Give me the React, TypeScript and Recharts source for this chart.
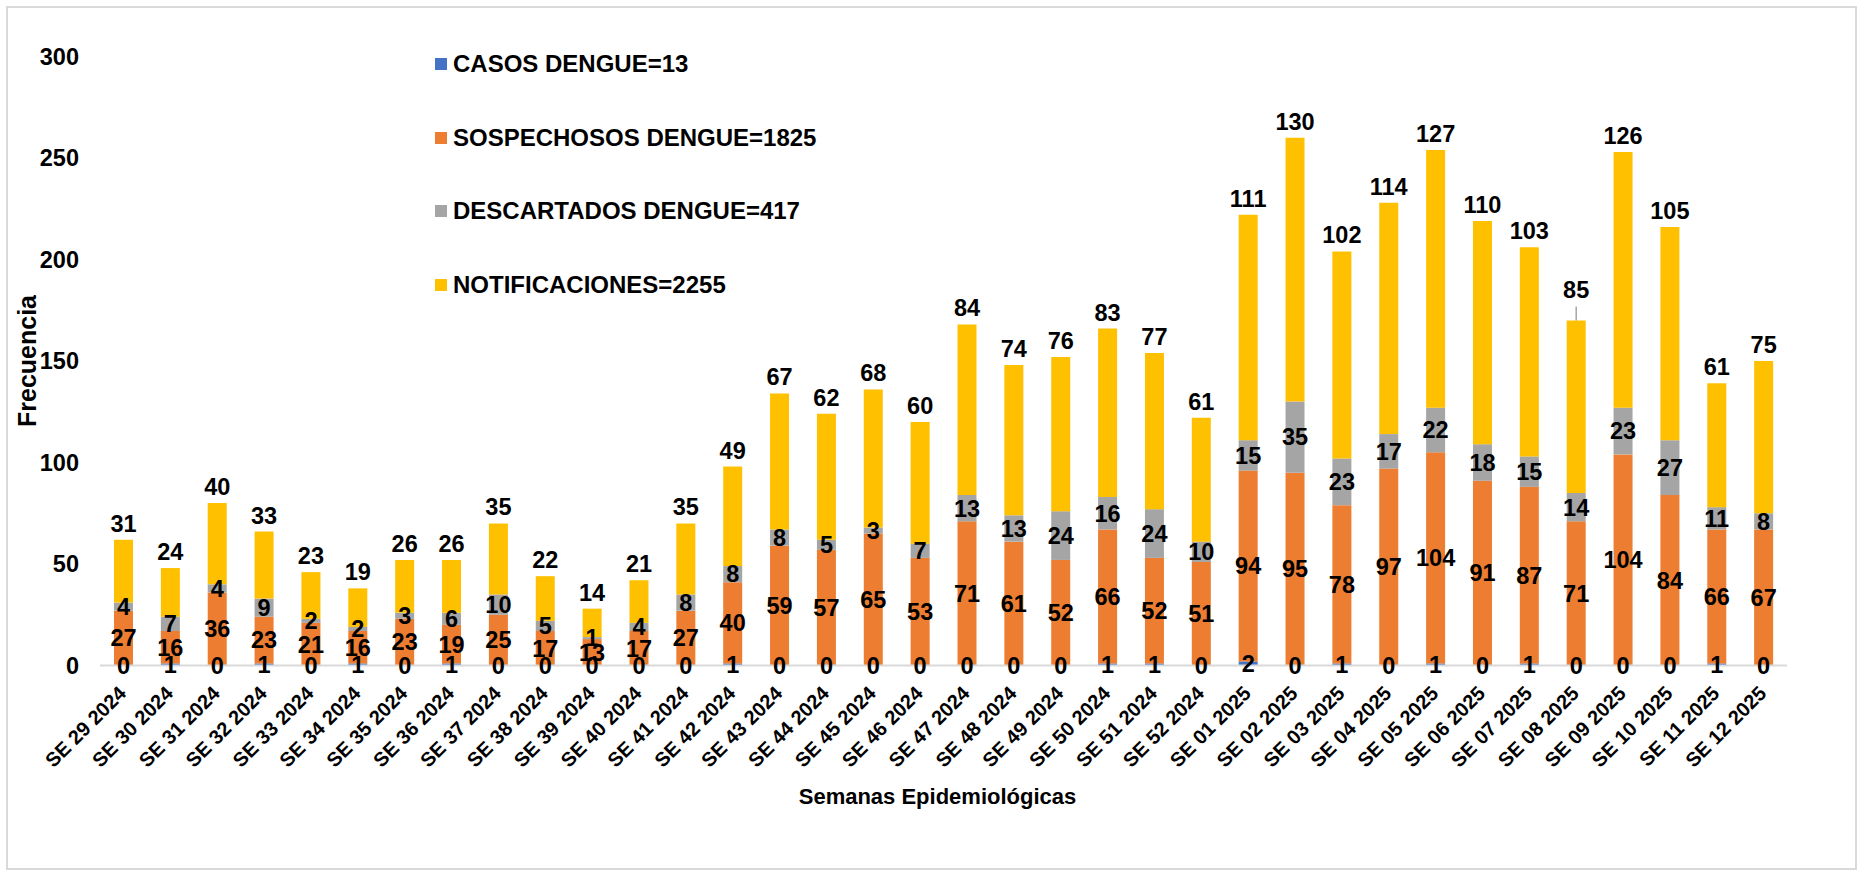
import React from 'react';
import { BarChart, Bar, XAxis, YAxis, Legend, LabelList } from 'recharts';

const weeks = [
  'SE 29 2024', 'SE 30 2024', 'SE 31 2024', 'SE 32 2024', 'SE 33 2024', 'SE 34 2024',
  'SE 35 2024', 'SE 36 2024', 'SE 37 2024', 'SE 38 2024', 'SE 39 2024', 'SE 40 2024',
  'SE 41 2024', 'SE 42 2024', 'SE 43 2024', 'SE 44 2024', 'SE 45 2024', 'SE 46 2024',
  'SE 47 2024', 'SE 48 2024', 'SE 49 2024', 'SE 50 2024', 'SE 51 2024', 'SE 52 2024',
  'SE 01 2025', 'SE 02 2025', 'SE 03 2025', 'SE 04 2025', 'SE 05 2025', 'SE 06 2025',
  'SE 07 2025', 'SE 08 2025', 'SE 09 2025', 'SE 10 2025', 'SE 11 2025', 'SE 12 2025',
];

const casos = [0, 1, 0, 1, 0, 1, 0, 1, 0, 0, 0, 0, 0, 1, 0, 0, 0, 0, 0, 0, 0, 1, 1, 0, 2, 0, 1, 0, 1, 0, 1, 0, 0, 0, 1, 0];
const sospechosos = [27, 16, 36, 23, 21, 16, 23, 19, 25, 17, 13, 17, 27, 40, 59, 57, 65, 53, 71, 61, 52, 66, 52, 51, 94, 95, 78, 97, 104, 91, 87, 71, 104, 84, 66, 67];
const descartados = [4, 7, 4, 9, 2, 2, 3, 6, 10, 5, 1, 4, 8, 8, 8, 5, 3, 7, 13, 13, 24, 16, 24, 10, 15, 35, 23, 17, 22, 18, 15, 14, 23, 27, 11, 8];
const notificaciones = [31, 24, 40, 33, 23, 19, 26, 26, 35, 22, 14, 21, 35, 49, 67, 62, 68, 60, 84, 74, 76, 83, 77, 61, 111, 130, 102, 114, 127, 110, 103, 85, 126, 105, 61, 75];

const seriesNames = ['CASOS DENGUE=13', 'SOSPECHOSOS DENGUE=1825', 'DESCARTADOS DENGUE=417', 'NOTIFICACIONES=2255'];
const seriesColors = ['#4472C4', '#ED7D31', '#A5A5A5', '#FFC000'];
const yTicks = [0, 50, 100, 150, 200, 250, 300];
const leaderWeek = 'SE 08 2025';

const data = weeks.map((w, i) => ({
  week: w,
  casos: casos[i],
  sospechosos: sospechosos[i],
  descartados: descartados[i],
  notificaciones: notificaciones[i],
}));

const FONT = '"Liberation Sans", Arial, sans-serif';
const LABEL_SIZE = 23.5;

const YTitle = (props: any) => {
  const vb = props.viewBox || {};
  const cx = vb.x + 27;
  const cy = vb.y + vb.height / 2;
  return (
    <text
      x={cx}
      y={cy}
      transform={`rotate(-90, ${cx}, ${cy})`}
      textAnchor="middle"
      dominantBaseline="central"
      fontFamily={FONT}
      fontWeight="bold"
      fontSize={25}
      fill="#000"
    >
      Frecuencia
    </text>
  );
};

const XTitle = (props: any) => {
  const vb = props.viewBox || {};
  const cx = vb.x + vb.width / 2 - 6;
  const cy = vb.y + 131;
  return (
    <text
      x={cx}
      y={cy}
      textAnchor="middle"
      dominantBaseline="central"
      fontFamily={FONT}
      fontWeight="bold"
      fontSize={22}
      fill="#000"
    >
      Semanas Epidemiológicas
    </text>
  );
};

const NotifLabel = (props: any) => {
  const { x, y, width, value, index } = props;
  const cx = Number(x) + Number(width) / 2;
  const top = Number(y);
  const lead = weeks[index] === leaderWeek;
  const off = lead ? 22 : 8;
  return (
    <g>
      {lead && <line x1={cx} x2={cx} y1={top - 14} y2={top} stroke="#A5A5A5" strokeWidth={1.5} />}
      <text
        x={cx}
        y={top - off}
        textAnchor="middle"
        fontFamily={FONT}
        fontWeight="bold"
        fontSize={LABEL_SIZE}
        fill="#000"
      >
        {value}
      </text>
    </g>
  );
};

// Casos labels (often zero-height segments) drawn from the stacked segment just above them.
const CasosLabel = (props: any) => {
  const { x, y, width, height, index } = props;
  const i = Number(index);
  const cx = Number(x) + Number(width) / 2;
  const bottom = Number(y) + Number(height);
  const unit = sospechosos[i] ? Number(height) / sospechosos[i] : 0;
  const cy = bottom + (casos[i] * unit) / 2;
  return (
    <text
      x={cx}
      y={cy + LABEL_SIZE * 0.355}
      textAnchor="middle"
      fontFamily={FONT}
      fontWeight="bold"
      fontSize={LABEL_SIZE}
      fill="#000"
    >
      {casos[i]}
    </text>
  );
};

const renderLegend = (props: any) => {
  const payload = [...(props.payload || [])].sort(
    (a: any, b: any) => seriesNames.indexOf(a.value) - seriesNames.indexOf(b.value)
  );
  return (
    <div style={{ fontFamily: FONT }}>
      {payload.map((p: any, i: number) => (
        <div
          key={i}
          style={{ height: 73.7, display: 'flex', alignItems: 'center', whiteSpace: 'nowrap' }}
        >
          <span style={{ display: 'inline-block', width: 12, height: 12, background: p.color, marginRight: 6 }} />
          <span style={{ fontSize: 24, fontWeight: 'bold', color: '#000', lineHeight: '24px' }}>{p.value}</span>
        </div>
      ))}
    </div>
  );
};

const centerLabel = {
  position: 'center' as const,
  fill: '#000',
  fontFamily: FONT,
  fontWeight: 'bold',
  fontSize: LABEL_SIZE,
};

export default function App() {
  return (
    <div style={{ position: 'absolute', left: 0, top: 0, width: 1870, height: 873, background: '#fff' }}>
      <div
        style={{
          position: 'absolute',
          left: 6,
          top: 6,
          width: 1851,
          height: 864,
          border: '2px solid #D9D9D9',
          boxSizing: 'border-box',
        }}
      />
      <BarChart
        width={1870}
        height={873}
        data={data}
        margin={{ top: 56.5, right: 83, bottom: 87.5, left: 0 }}
        barSize={19}
      >
        <XAxis
          dataKey="week"
          interval={0}
          height={120}
          tickLine={false}
          tickSize={0}
          tickMargin={19}
          axisLine={{ stroke: '#D9D9D9', strokeWidth: 2 }}
          angle={-45}
          textAnchor="end"
          tick={{ fill: '#000', fontFamily: FONT, fontWeight: 'bold', fontSize: 20, dx: -6 }}
          label={XTitle}
        />
        <YAxis
          width={100}
          domain={[0, 300]}
          ticks={yTicks}
          interval={0}
          axisLine={false}
          tickLine={false}
          tickSize={0}
          tickMargin={21}
          tick={{ fill: '#000', fontFamily: FONT, fontWeight: 'bold', fontSize: LABEL_SIZE }}
          label={YTitle}
        />
        <Legend
          layout="vertical"
          align="center"
          verticalAlign="middle"
          wrapperStyle={{ left: 435, top: 27, width: 600, height: 300 }}
          content={renderLegend}
        />
        <Bar dataKey="casos" name={seriesNames[0]} stackId="a" fill={seriesColors[0]} isAnimationActive={false} />
        <Bar dataKey="sospechosos" name={seriesNames[1]} stackId="a" fill={seriesColors[1]} isAnimationActive={false}>
          <LabelList dataKey="sospechosos" {...centerLabel} />
          <LabelList dataKey="casos" content={<CasosLabel />} />
        </Bar>
        <Bar dataKey="descartados" name={seriesNames[2]} stackId="a" fill={seriesColors[2]} isAnimationActive={false}>
          <LabelList dataKey="descartados" {...centerLabel} />
        </Bar>
        <Bar dataKey="notificaciones" name={seriesNames[3]} stackId="a" fill={seriesColors[3]} isAnimationActive={false}>
          <LabelList dataKey="notificaciones" content={<NotifLabel />} />
        </Bar>
      </BarChart>
    </div>
  );
}
